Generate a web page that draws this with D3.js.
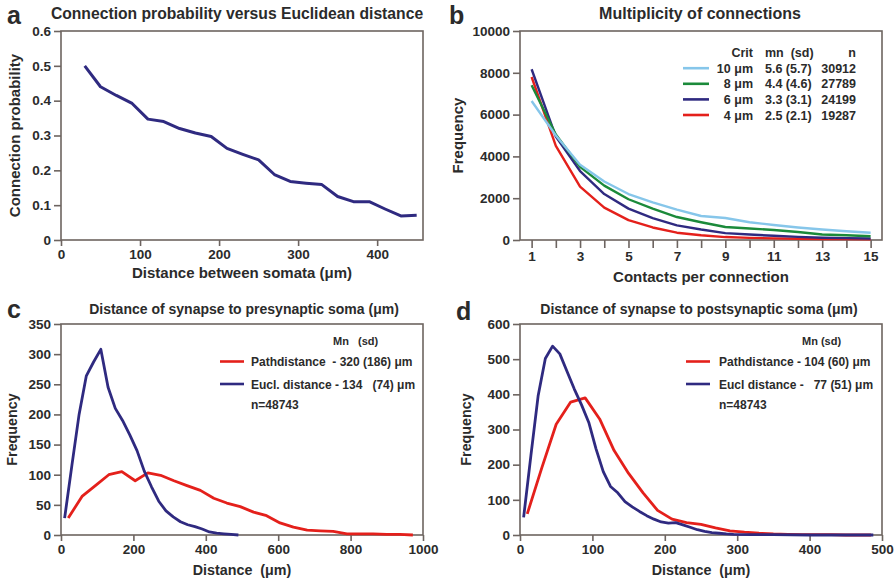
<!DOCTYPE html>
<html>
<head>
<meta charset="utf-8">
<script src="https://cdn.jsdelivr.net/npm/d3@7"></script>
<style>
  html, body { margin: 0; padding: 0; background: #fff; }
  svg text { font-family: "Liberation Sans", Arial, sans-serif; font-weight: bold; fill: #2b2b2b; white-space: pre; }
</style>
</head>
<body>
<svg id="fig" width="896" height="581"></svg>
<script>
// ---- data ----
// a: connection probability vs euclidean distance
const aDist = [30, 50, 70, 90, 110, 130, 150, 170, 190, 210, 230, 250, 270, 290, 310, 330, 350, 370, 390, 410, 430, 450];
const aProb = [0.5, 0.44, 0.415, 0.392, 0.347, 0.34, 0.32, 0.307, 0.297, 0.263, 0.246, 0.23, 0.188, 0.168, 0.163, 0.159, 0.125, 0.11, 0.11, 0.089, 0.069, 0.071];

// b: multiplicity of connections
const bContacts = [1, 2, 3, 4, 5, 6, 7, 8, 9, 10, 11, 12, 13, 14, 15];
const bCrit10 = [6650, 5000, 3600, 2800, 2200, 1800, 1450, 1150, 1050, 850, 720, 600, 500, 420, 350];
const bCrit8  = [7400, 5050, 3500, 2600, 1950, 1500, 1100, 850, 620, 550, 480, 380, 260, 230, 180];
const bCrit6  = [8170, 4950, 3300, 2200, 1500, 1050, 700, 500, 330, 260, 200, 150, 110, 90, 70];
const bCrit4  = [7800, 4500, 2550, 1550, 950, 600, 350, 230, 140, 100, 80, 60, 50, 40, 30];
const bLegendCrit = ["10 \u03bcm", "8 \u03bcm", "6 \u03bcm", "4 \u03bcm"];
const bLegendMn = ["5.6 (5.7)", "4.4 (4.6)", "3.3 (3.1)", "2.5 (2.1)"];
const bLegendN = ["30912", "27789", "24199", "19287"];

// c: distance of synapse to presynaptic soma
const cPathDist = [20, 58, 95, 132, 168, 205, 240, 275, 312, 348, 385, 422, 458, 495, 532, 568, 605, 642, 680, 716, 752, 790, 826, 862, 900, 936, 972];
const cPathFreq = [28, 64, 82, 100, 105, 90, 103, 99, 90, 82, 74, 61, 53, 47, 38, 32, 20, 13, 8, 7, 6, 2, 2, 2, 1, 1, 0];
const cEuclDist = [10, 30, 50, 70, 90, 110, 130, 150, 170, 190, 210, 230, 250, 270, 290, 310, 330, 350, 370, 390, 410, 430, 450, 470, 490];
const cEuclFreq = [28, 115, 200, 264, 287, 308, 245, 210, 190, 166, 140, 106, 80, 56, 40, 30, 22, 17, 14, 10, 5, 3, 2, 1, 0];

// d: distance of synapse to postsynaptic soma
const dPathDist = [10, 30, 50, 70, 90, 110, 130, 150, 170, 190, 210, 230, 250, 270, 290, 310, 330, 350, 370, 390, 410, 430, 450, 470, 485];
const dPathFreq = [60, 190, 315, 378, 390, 330, 240, 175, 120, 70, 45, 35, 30, 20, 12, 8, 5, 3, 2, 1, 1, 1, 0, 0, 0];
const dEuclDist = [5, 15, 25, 35, 45, 55, 65, 75, 85, 95, 105, 115, 125, 135, 145, 155, 165, 175, 185, 195, 205, 215, 225, 235, 245, 255, 265, 275, 285, 295, 320, 350, 400, 450, 488];
const dEuclFreq = [50, 225, 395, 502, 537, 515, 465, 415, 370, 320, 245, 180, 138, 120, 95, 80, 67, 55, 45, 37, 34, 35, 29, 22, 15, 10, 7, 5, 3, 2, 1, 1, 0, 0, 0];

const PURPLE = "#2f2a80", RED = "#e4201b", GREEN = "#1b8a3a", LBLUE = "#86c6ea";
const FRAME = "#6d6460";

const svg = d3.select("#fig");

function panel(cfg) {
	const g = svg.append("g");
	const x = d3.scaleLinear().domain(cfg.xDomain).range([cfg.left, cfg.right]);
	const y = d3.scaleLinear().domain(cfg.yDomain).range([cfg.bottom, cfg.top]);

	g.append("rect")
		.attr("x", cfg.left).attr("y", cfg.top)
		.attr("width", cfg.right - cfg.left).attr("height", cfg.bottom - cfg.top)
		.attr("fill", "none").attr("stroke", FRAME).attr("stroke-width", 1.6);

	const xAxis = d3.axisBottom(x).tickValues(cfg.xTicks).tickSize(cfg.tick || 6).tickPadding(3).tickSizeOuter(0)
		.tickFormat(cfg.xFormat || (d => d));
	const yAxis = d3.axisLeft(y).tickValues(cfg.yTicks).tickSize(7).tickPadding(3).tickSizeOuter(0)
		.tickFormat(cfg.yFormat || (d => d));

	const gx = g.append("g").attr("transform", "translate(0," + cfg.bottom + ")").call(xAxis);
	const gy = g.append("g").attr("transform", "translate(" + cfg.left + ",0)").call(yAxis);
	[gx, gy].forEach(a => {
		a.select(".domain").remove();
		a.selectAll(".tick line").attr("stroke", FRAME).attr("stroke-width", 1.6);
		a.selectAll(".tick text").style("font-size", "13.5px").attr("fill", "#2b2b2b");
	});

	const line = d3.line().x(d => x(d[0])).y(d => y(d[1]));
	cfg.series.forEach(s => {
		g.append("path")
			.datum(d3.zip(s.x, s.y))
			.attr("d", line)
			.attr("fill", "none")
			.attr("stroke", s.color)
			.attr("stroke-width", s.width || 2.8)
			.attr("stroke-linejoin", "round");
	});

	// titles and labels
	g.append("text").attr("x", cfg.letterX).attr("y", cfg.letterY)
		.style("font-size", "25px").text(cfg.letter);
	g.append("text").attr("x", cfg.titleX).attr("y", cfg.titleY).attr("text-anchor", "middle")
		.style("font-size", cfg.titleSize).text(cfg.title);
	g.append("text").attr("x", (cfg.left + cfg.right) / 2).attr("y", cfg.xLabelY).attr("text-anchor", "middle")
		.style("font-size", cfg.labelSize).text(cfg.xLabel);
	g.append("text")
		.attr("transform", "translate(" + cfg.yLabelX + "," + ((cfg.top + cfg.bottom) / 2) + ") rotate(-90)")
		.attr("text-anchor", "middle").style("font-size", cfg.labelSize).text(cfg.yLabel);
	return g;
}

// ---- a ----
panel({
	left: 61, right: 423, top: 31, bottom: 240,
	xDomain: [0, 458], yDomain: [0, 0.6],
	xTicks: [0, 100, 200, 300, 400], yTicks: [0, 0.1, 0.2, 0.3, 0.4, 0.5, 0.6],
	yFormat: d => d === 0 ? "0" : d.toFixed(1),
	series: [{x: aDist, y: aProb, color: PURPLE, width: 3}],
	letter: "a", letterX: 7, letterY: 24,
	title: "Connection probability versus Euclidean distance", titleX: 237, titleY: 19, titleSize: "15.7px",
	xLabel: "Distance between somata (\u03bcm)", xLabelY: 278, labelSize: "15px",
	yLabel: "Connection probability", yLabelX: 20
});

// ---- b ----
const bColors = [LBLUE, GREEN, PURPLE, RED];
const gb = panel({
	left: 520, right: 882, top: 31, bottom: 240,
	xDomain: [0.52, 15.47], yDomain: [0, 10000],
	xTicks: bContacts, yTicks: [0, 2000, 4000, 6000, 8000, 10000],
	xFormat: d => d % 2 ? d : "", tick: 8,
	series: [
		{x: bContacts, y: bCrit4, color: RED, width: 2.4},
		{x: bContacts, y: bCrit6, color: PURPLE, width: 2.4},
		{x: bContacts, y: bCrit8, color: GREEN, width: 2.4},
		{x: bContacts, y: bCrit10, color: LBLUE, width: 2.4}
	],
	letter: "b", letterX: 449, letterY: 24,
	title: "Multiplicity of connections", titleX: 700, titleY: 19, titleSize: "16px",
	xLabel: "Contacts per connection", xLabelY: 282, labelSize: "15px",
	yLabel: "Frequency", yLabelX: 463
});
gb.append("text").attr("x", 753).attr("y", 56.5).attr("text-anchor", "end").style("font-size", "12.5px").text("Crit");
gb.append("text").attr("x", 765).attr("y", 56.5).style("font-size", "12.5px").text("mn  (sd)");
gb.append("text").attr("x", 856).attr("y", 56.5).attr("text-anchor", "end").style("font-size", "12.5px").text("n");
bLegendCrit.forEach((c, i) => {
	const yy = 72.7 + i * 15.6;
	gb.append("line").attr("x1", 683).attr("x2", 709).attr("y1", yy - 4.5).attr("y2", yy - 4.5)
		.attr("stroke", bColors[i]).attr("stroke-width", 2.6);
	gb.append("text").attr("x", 753).attr("y", yy).attr("text-anchor", "end").style("font-size", "12.5px").text(c);
	gb.append("text").attr("x", 765).attr("y", yy).style("font-size", "12.5px").text(bLegendMn[i]);
	gb.append("text").attr("x", 856).attr("y", yy).attr("text-anchor", "end").style("font-size", "12.5px").text(bLegendN[i]);
});

function distLegend(g, mnX, swX, txX, labels) {
	g.append("text").attr("x", mnX).attr("y", 345).style("font-size", "11px").text(labels[0]);
	[[RED, labels[1], 366], [PURPLE, labels[2], 388.5]].forEach(r => {
		g.append("line").attr("x1", swX).attr("x2", swX + 24).attr("y1", r[2] - 4.5).attr("y2", r[2] - 4.5)
			.attr("stroke", r[0]).attr("stroke-width", 2.6);
		g.append("text").attr("x", txX).attr("y", r[2]).style("font-size", "12px").text(r[1]);
	});
	g.append("text").attr("x", txX).attr("y", 408.5).style("font-size", "12px").text(labels[3]);
}

// ---- c ----
const gc = panel({
	left: 61, right: 423, top: 324, bottom: 535,
	xDomain: [0, 1000], yDomain: [0, 350],
	xTicks: [0, 200, 400, 600, 800, 1000], yTicks: [0, 50, 100, 150, 200, 250, 300, 350],
	series: [
		{x: cPathDist, y: cPathFreq, color: RED, width: 2.8},
		{x: cEuclDist, y: cEuclFreq, color: PURPLE, width: 2.8}
	],
	letter: "c", letterX: 7, letterY: 318,
	title: "Distance of synapse to presynaptic soma (\u03bcm)", titleX: 244, titleY: 314, titleSize: "14px",
	xLabel: "Distance  (\u03bcm)", xLabelY: 575, labelSize: "14.3px",
	yLabel: "Frequency", yLabelX: 17
});
distLegend(gc, 333, 220, 251, ["Mn   (sd)", "Pathdistance  - 320 (186) \u03bcm", "Eucl. distance - 134   (74) \u03bcm", "n=48743"]);

// ---- d ----
const gd = panel({
	left: 520, right: 882, top: 324, bottom: 535,
	xDomain: [0, 500], yDomain: [0, 600],
	xTicks: [0, 100, 200, 300, 400, 500], yTicks: [0, 100, 200, 300, 400, 500, 600],
	series: [
		{x: dPathDist, y: dPathFreq, color: RED, width: 2.8},
		{x: dEuclDist, y: dEuclFreq, color: PURPLE, width: 2.8}
	],
	letter: "d", letterX: 456, letterY: 320,
	title: "Distance of synapse to postsynaptic soma (\u03bcm)", titleX: 699, titleY: 314, titleSize: "14px",
	xLabel: "Distance  (\u03bcm)", xLabelY: 575, labelSize: "14.3px",
	yLabel: "Frequency", yLabelX: 471
});
distLegend(gd, 802, 686, 719, ["Mn (sd)", "Pathdistance - 104 (60) \u03bcm", "Eucl distance -   77 (51) \u03bcm", "n=48743"]);
</script>
</body>
</html>
